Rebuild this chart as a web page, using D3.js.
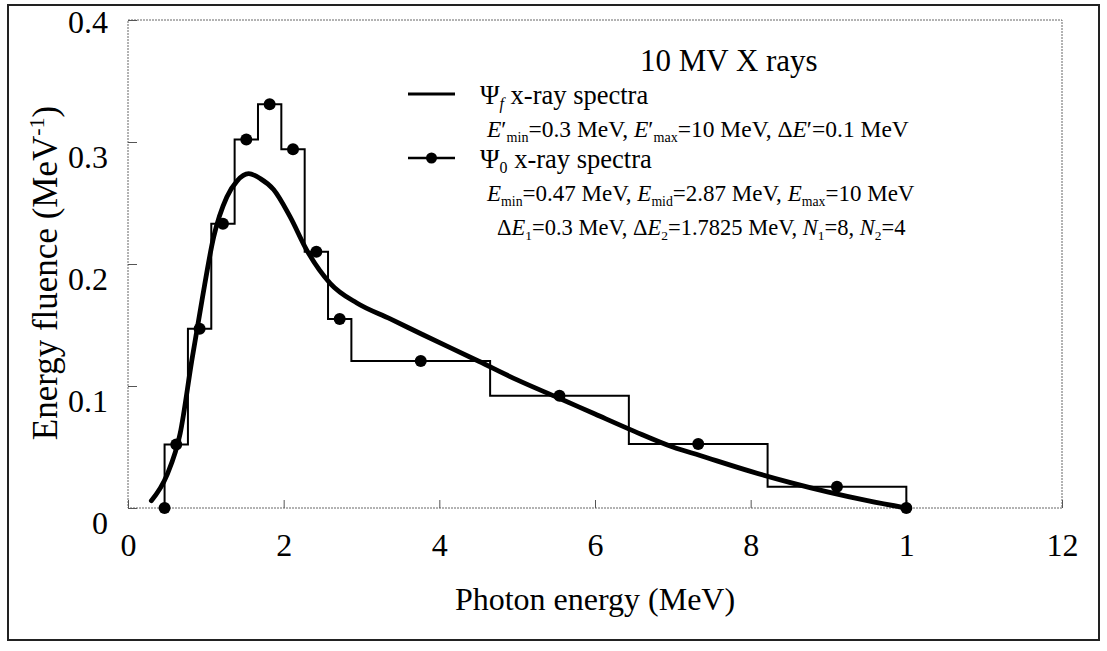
<!DOCTYPE html>
<html>
<head>
<meta charset="utf-8">
<script src="https://cdn.jsdelivr.net/npm/d3@7"></script>
<style>
  body { margin: 0; background: #fff; }
  svg text { font-family: "Liberation Serif", "Times New Roman", serif; fill: #000; }
</style>
</head>
<body>
<svg id="chart" width="1107" height="651"></svg>
<script>
// Ψ0 histogram: bin edges (MeV) and energy fluence per bin (MeV^-1)
const binEdges  = [0.47, 0.77, 1.07, 1.37, 1.67, 1.97, 2.27, 2.57, 2.87, 4.6525, 6.435, 8.2175, 10];
const binValues = [0.052, 0.147, 0.233, 0.302, 0.331, 0.294, 0.210, 0.155, 0.1205, 0.092, 0.0525, 0.0175];

// Ψf continuous spectrum (MeV, MeV^-1)
const curveEnergy  = [0.30, 0.50, 0.67, 0.82, 0.95, 1.10, 1.27, 1.40, 1.55, 1.70, 1.87, 2.08, 2.30, 2.60, 2.94, 3.37, 3.79, 4.50, 5.00, 5.54, 6.00, 6.50, 7.00, 7.35, 8.00, 8.50, 9.00, 9.50, 10.0];
const curveFluence = [0.006, 0.027, 0.061, 0.121, 0.170, 0.222, 0.255, 0.268, 0.274, 0.270, 0.261, 0.239, 0.211, 0.184, 0.168, 0.155, 0.142, 0.1205, 0.105, 0.090, 0.077, 0.063, 0.050, 0.043, 0.030, 0.021, 0.013, 0.006, 0.0];

// Axis ticks
const xTicks = [0, 2, 4, 6, 8, 10, 12];
const xTickLabels = ["0", "2", "4", "6", "8", "1", "12"];
const yTicks = [0, 0.1, 0.2, 0.3, 0.4];
const yTickLabels = ["0", "0.1", "0.2", "0.3", "0.4"];

const svg = d3.select("#chart");
const plot = { left: 128, right: 1062, top: 20, bottom: 508 };

const x = d3.scaleLinear().domain([0, 12]).range([plot.left, plot.right]);
const y = d3.scaleLinear().domain([0, 0.4]).range([plot.bottom, plot.top]);

// outer frame
svg.append("rect")
  .attr("x", 8).attr("y", 5).attr("width", 1091).attr("height", 635)
  .attr("fill", "none").attr("stroke", "#222").attr("stroke-width", 2);

// plot frame
svg.append("rect")
  .attr("x", plot.left).attr("y", plot.top)
  .attr("width", plot.right - plot.left).attr("height", plot.bottom - plot.top)
  .attr("fill", "none").attr("stroke", "#666").attr("stroke-width", 1)
  .attr("stroke-dasharray", "2 1");

// axes
const xAxis = svg.append("g")
  .attr("transform", `translate(0,${plot.bottom})`)
  .call(d3.axisBottom(x).tickValues(xTicks)
    .tickFormat((d, i) => xTickLabels[i]).tickSize(-8).tickPadding(0));
const yAxis = svg.append("g")
  .attr("transform", `translate(${plot.left},0)`)
  .call(d3.axisLeft(y).tickValues(yTicks)
    .tickFormat((d, i) => yTickLabels[i]).tickSize(-9).tickPadding(20));

[xAxis, yAxis].forEach(g => {
  g.select(".domain").remove();
  g.selectAll(".tick line").attr("stroke", "#555").attr("stroke-width", 1);
  g.selectAll(".tick text").attr("font-size", 32)
    .attr("font-family", "Liberation Serif, serif").attr("fill", "#000");
});
xAxis.selectAll(".tick text").attr("y", 48).attr("dy", null);
// labels sit a little below their ticks; the top one is kept inside the frame
yAxis.selectAll(".tick text").attr("y", d => d >= 0.4 ? 2 : 15);

// axis titles
svg.append("text")
  .attr("x", (plot.left + plot.right) / 2).attr("y", 610)
  .attr("text-anchor", "middle").attr("font-size", 32)
  .text("Photon energy (MeV)");

const yTitle = svg.append("text")
  .attr("transform", `translate(57,273) rotate(-90)`)
  .attr("text-anchor", "middle").attr("font-size", 35);
yTitle.append("tspan").text("Energy fluence (MeV");
yTitle.append("tspan").attr("font-size", 22).attr("dy", -13).text("-1");
yTitle.append("tspan").attr("dy", 13).text(")");

// Ψ0 histogram outline
const stepPts = [[binEdges[0], 0]];
binValues.forEach((v, i) => {
  stepPts.push([binEdges[i], v]);
  stepPts.push([binEdges[i + 1], v]);
});
stepPts.push([binEdges[binEdges.length - 1], 0]);

svg.append("path")
  .datum(stepPts)
  .attr("fill", "none").attr("stroke", "#000").attr("stroke-width", 2)
  .attr("d", d3.line().x(d => x(d[0])).y(d => y(d[1])));

// Ψf curve
const curvePts = curveEnergy.map((e, i) => [e, curveFluence[i]]);
svg.append("path")
  .datum(curvePts)
  .attr("fill", "none").attr("stroke", "#000").attr("stroke-width", 4.8)
  .attr("stroke-linecap", "round")
  .attr("d", d3.line().x(d => x(d[0])).y(d => y(d[1])).curve(d3.curveMonotoneX));

// Ψ0 markers at bin centres and both end points
const dotPts = [[binEdges[0], 0]]
  .concat(binValues.map((v, i) => [(binEdges[i] + binEdges[i + 1]) / 2, v]))
  .concat([[binEdges[binEdges.length - 1], 0]]);
svg.append("g").selectAll("circle")
  .data(dotPts).join("circle")
  .attr("cx", d => x(d[0])).attr("cy", d => y(d[1])).attr("r", 6)
  .attr("fill", "#000");

// title and legend
svg.append("text").attr("x", 640).attr("y", 71).attr("font-size", 31)
  .text("10 MV X rays");

function rich(xp, yp, size, parts) {
  const t = svg.append("text").attr("x", xp).attr("y", yp).attr("font-size", size);
  let shift = 0;
  parts.forEach(p => {
    const s = t.append("tspan").text(p.t);
    const target = p.sub ? size * 0.2 : 0;
    if (target !== shift) { s.attr("dy", target - shift); shift = target; }
    if (p.sub) s.attr("font-size", size * 0.6);
    if (p.i) s.attr("font-style", "italic");
  });
  return t;
}

const legX = 408, legX2 = 455;

svg.append("line").attr("x1", legX).attr("x2", legX2).attr("y1", 94).attr("y2", 94)
  .attr("stroke", "#000").attr("stroke-width", 3);
rich(480, 104, 26.5, [{ t: "Ψ" }, { t: "f", sub: true, i: true }, { t: " x-ray spectra" }]);

rich(487, 137, 23.5, [
  { t: "E", i: true }, { t: "′" }, { t: "min", sub: true }, { t: "=0.3 MeV, " },
  { t: "E", i: true }, { t: "′" }, { t: "max", sub: true }, { t: "=10 MeV, Δ" },
  { t: "E", i: true }, { t: "′=0.1 MeV" }
]);

svg.append("line").attr("x1", legX).attr("x2", legX2).attr("y1", 158).attr("y2", 158)
  .attr("stroke", "#000").attr("stroke-width", 2.5);
svg.append("circle").attr("cx", (legX + legX2) / 2).attr("cy", 158).attr("r", 5.5).attr("fill", "#000");
rich(480, 168, 26.5, [{ t: "Ψ" }, { t: "0", sub: true }, { t: " x-ray spectra" }]);

rich(487, 201, 23, [
  { t: "E", i: true }, { t: "min", sub: true }, { t: "=0.47 MeV, " },
  { t: "E", i: true }, { t: "mid", sub: true }, { t: "=2.87 MeV, " },
  { t: "E", i: true }, { t: "max", sub: true }, { t: "=10 MeV" }
]);

rich(497, 235, 22.5, [
  { t: "Δ" }, { t: "E", i: true }, { t: "1", sub: true }, { t: "=0.3 MeV, Δ" },
  { t: "E", i: true }, { t: "2", sub: true }, { t: "=1.7825 MeV, " },
  { t: "N", i: true }, { t: "1", sub: true }, { t: "=8, " },
  { t: "N", i: true }, { t: "2", sub: true }, { t: "=4" }
]);
</script>
</body>
</html>
